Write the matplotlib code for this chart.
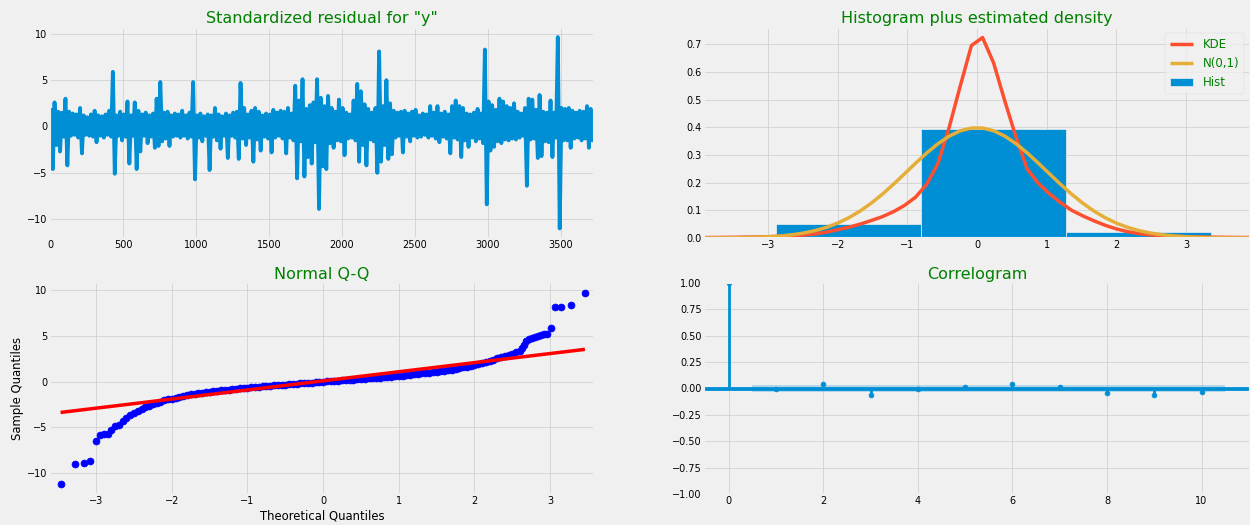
import numpy as np
import matplotlib
matplotlib.use('Agg')
import matplotlib.pyplot as plt

# statsmodels-style diagnostics, fivethirtyeight look
plt.style.use('fivethirtyeight')
plt.rcParams['text.color'] = 'green'
plt.rcParams['lines.linewidth'] = 5
plt.rcParams['axes.titlesize'] = 23
plt.rcParams['legend.fontsize'] = 17

# ---- standardized residuals (envelope read per block of 25 obs) ----
nobs = 3730
resid_step = 25
resid_hi = [2.0, 2.6, 1.6, 1.5, 3.0, 1.6, 1.4, 1.3, 2.0, 1.2,
            1.0, 1.3, 1.7, 1.2, 1.1, 1.3, 1.7, 5.9, 1.2, 1.6,
            1.3, 2.7, 1.2, 2.6, 1.7, 1.3, 1.5, 1.2, 1.4, 3.0,
            4.8, 1.5, 1.6, 1.2, 1.4, 1.3, 1.7, 1.2, 1.5, 4.8,
            1.2, 1.4, 1.1, 1.3, 1.2, 2.0, 1.3, 1.1, 1.4, 1.2,
            1.5, 1.6, 4.7, 2.0, 1.3, 1.7, 2.0, 1.6, 1.2, 1.4,
            1.3, 1.8, 1.5, 1.7, 1.6, 2.0, 1.4, 4.4, 2.8, 5.1,
            1.9, 2.3, 2.6, 5.1, 3.1, 2.2, 3.3, 2.0, 1.6, 2.9,
            2.0, 1.5, 1.3, 2.8, 4.6, 3.8, 2.4, 1.9, 1.5, 2.0,
            8.1, 2.2, 5.0, 2.5, 1.7, 1.5, 1.6, 1.7, 1.4, 1.6,
            1.8, 1.2, 1.4, 1.3, 2.2, 1.5, 2.2, 1.4, 1.6, 1.3,
            2.2, 2.8, 2.2, 2.0, 1.4, 1.3, 1.5, 1.9, 1.4, 8.3,
            2.7, 2.3, 1.8, 3.0, 2.7, 2.2, 2.0, 2.5, 1.6, 1.4,
            2.0, 3.0, 2.9, 1.8, 3.4, 1.6, 1.5, 2.8, 1.5, 9.65,
            2.0, 1.9, 2.0, 1.7, 1.5, 1.7, 1.6, 2.2, 1.9, 1.8]
resid_lo = [-4.6, -2.0, -2.7, -1.1, -4.2, -1.0, -0.9, -1.2, -2.9, -0.9,
            -1.0, -1.1, -1.7, -1.0, -1.2, -0.9, -1.1, -5.1, -1.0, -1.5,
            -1.1, -4.0, -1.0, -4.6, -2.7, -1.0, -1.8, -1.1, -2.3, -2.1,
            -1.6, -1.3, -2.1, -1.1, -1.0, -1.2, -1.0, -1.3, -1.1, -5.7,
            -1.2, -1.6, -1.0, -4.7, -1.1, -1.5, -2.4, -1.0, -3.4, -1.0,
            -1.2, -3.5, -1.3, -2.0, -1.2, -3.8, -1.4, -2.6, -1.1, -1.3,
            -2.8, -1.2, -1.0, -1.3, -2.9, -1.2, -1.5, -5.6, -1.6, -5.4,
            -3.3, -4.0, -1.7, -8.9, -4.3, -4.6, -1.8, -2.3, -1.5, -1.6,
            -3.1, -1.3, -1.2, -1.5, -3.8, -2.0, -4.2, -1.4, -1.6, -5.0,
            -3.8, -2.0, -3.5, -3.0, -1.2, -1.0, -2.8, -1.1, -1.6, -1.0,
            -1.2, -1.1, -0.9, -1.2, -1.0, -1.3, -1.7, -1.1, -1.3, -2.9,
            -1.2, -1.4, -3.3, -1.5, -2.2, -1.2, -1.6, -1.3, -1.8, -8.4,
            -2.6, -2.2, -1.6, -1.8, -1.4, -1.5, -1.3, -1.4, -1.2, -1.0,
            -6.4, -1.4, -1.3, -3.4, -3.2, -1.6, -1.7, -3.3, -1.2, -11.0,
            -1.5, -1.5, -2.3, -1.3, -1.2, -1.5, -1.3, -2.3, -1.5, -2.3]

# ---- histogram plus estimated density ----
hist_edges = [-11.2, -9.12, -7.04, -4.96, -2.88, -0.80, 1.28, 3.36, 5.44, 7.52, 9.60]
hist_dens = [0.0003, 0.0003, 0.001, 0.0035, 0.0494, 0.393, 0.0227, 0.0012, 0.0003, 0.0005]
kde_vals = [0.0015, 0.0018, 0.0022, 0.0027, 0.0033, 0.0040, 0.0050, 0.0064, 0.0082, 0.0110,
            0.0150, 0.0210, 0.0300, 0.0390, 0.0500, 0.0630, 0.0770, 0.0950, 0.1180, 0.1480,
            0.1950, 0.2700, 0.4000, 0.5500, 0.6960, 0.7250, 0.6320, 0.4950, 0.3650, 0.2500,
            0.1980, 0.1600, 0.1280, 0.1000, 0.0800, 0.0620, 0.0460, 0.0330, 0.0230, 0.0160,
            0.0115, 0.0085, 0.0065, 0.0052, 0.0042, 0.0034, 0.0028, 0.0023, 0.0019, 0.0016]
norm_vals = [0.00018, 0.00034, 0.00061, 0.00108, 0.00184, 0.00307, 0.00499, 0.00792, 0.01223, 0.01842,
             0.02705, 0.03871, 0.05399, 0.07340, 0.09728, 0.12566, 0.15822, 0.19419, 0.23228, 0.27086,
             0.30785, 0.34105, 0.36827, 0.38762, 0.39767, 0.39767, 0.38762, 0.36827, 0.34105, 0.30785,
             0.27086, 0.23228, 0.19419, 0.15822, 0.12566, 0.09728, 0.07340, 0.05399, 0.03871, 0.02705,
             0.01842, 0.01223, 0.00792, 0.00499, 0.00307, 0.00184, 0.00108, 0.00061, 0.00034, 0.00018]

# ---- normal Q-Q ----
qq_core_y = [-5.30, -4.90, -4.70, -4.30, -3.95, -3.70, -3.45, -3.25, -3.00, -2.80,
             -2.65, -2.50, -2.35, -2.20, -2.05, -1.95, -1.85, -1.75, -1.65, -1.55,
             -1.48, -1.40, -1.33, -1.27, -1.21, -1.15, -1.10, -1.05, -1.00, -0.95,
             -0.91, -0.87, -0.83, -0.79, -0.75, -0.70, -0.66, -0.63, -0.59, -0.56,
             -0.52, -0.49, -0.46, -0.42, -0.39, -0.36, -0.33, -0.29, -0.26, -0.23,
             -0.20, -0.17, -0.14, -0.11, -0.08, -0.05, -0.02, 0.01, 0.04, 0.07,
             0.10, 0.13, 0.16, 0.19, 0.22, 0.25, 0.28, 0.31, 0.34, 0.37,
             0.41, 0.44, 0.47, 0.51, 0.55, 0.58, 0.62, 0.66, 0.70, 0.74,
             0.79, 0.84, 0.89, 0.94, 0.99, 1.04, 1.09, 1.14, 1.20, 1.26,
             1.32, 1.39, 1.46, 1.54, 1.62, 1.71, 1.80, 1.90, 2.00, 2.12,
             2.25, 2.40, 2.55, 2.70, 2.82, 2.95, 3.05, 3.20, 3.35]
qq_tail_x = [-3.47, -3.28, -3.16, -3.08, -3.00, -2.95, -2.89, -2.85,
             2.63, 2.65, 2.68, 2.72, 2.76, 2.80, 2.84, 2.88, 2.92, 2.96,
             3.01, 3.06, 3.15, 3.27, 3.46]
qq_tail_y = [-11.23, -9.05, -8.91, -8.66, -6.45, -5.83, -5.72, -5.68,
             3.70, 4.00, 4.40, 4.60, 4.75, 4.85, 4.95, 5.10, 5.20, 5.25,
             5.87, 8.15, 8.15, 8.34, 9.72]
qq_line_x = [-3.47, 3.46]
qq_line_y = [-3.37, 3.52]

# ---- correlogram ----
acf_lags = [0, 1, 2, 3, 4, 5, 6, 7, 8, 9, 10]
acf_vals = [1.0, -0.006, 0.038, -0.057, -0.006, 0.016, 0.038, 0.016, -0.038, -0.063, -0.032]
acf_conf = [0.032, 0.032, 0.032, 0.032, 0.032, 0.032, 0.032, 0.032, 0.032, 0.032]


fig = plt.figure(figsize=(25, 10.5), dpi=50)
W, H = 1250., 525.

def px_axes(x0, y0, x1, y1):
    # axes box given in pixel coords of the 1250x525 canvas (top-left origin)
    return fig.add_axes([x0 / W, 1 - y1 / H, (x1 - x0) / W, (y1 - y0) / H])

ax1 = px_axes(50, 27.5, 594, 238)
ax2 = px_axes(704, 27.5, 1250, 238)
ax3 = px_axes(50, 283, 594, 494)
ax4 = px_axes(704, 283, 1250, 494)


# standardized residual
xs = np.column_stack([np.arange(len(resid_hi)) * resid_step + 6,
                      np.arange(len(resid_lo)) * resid_step + 19]).ravel()
ys = np.column_stack([resid_hi, resid_lo]).ravel()
ax1.plot(xs, ys, linewidth=5.5)
ax1.set_xlim(0, nobs - 1)
ax1.set_title('Standardized residual for "y"')


# histogram + densities (hist first so the lines take the next colours)
_, _, bars = ax2.hist(hist_edges[:-1], bins=hist_edges, weights=hist_dens, label='Hist',
                      edgecolor='#f0f0f0', linewidth=1)
kde_x = np.linspace(-1.96 * 2, 1.96 * 2, len(kde_vals))
l_kde, = ax2.plot(kde_x, kde_vals, label='KDE', color='#fc4f30')
l_norm, = ax2.plot(kde_x, norm_vals, label='N(0,1)', color='#e5ae38')
ax2.set_xlim(-1.96 * 2, 1.96 * 2)
ax2.legend([l_kde, l_norm, bars], ['KDE', 'N(0,1)', 'Hist'], loc='upper right')
ax2.set_title('Histogram plus estimated density')


# normal Q-Q
qq_core_x = np.round(np.arange(len(qq_core_y)) * 0.05 - 2.80, 2)
qq_x = np.concatenate([qq_tail_x[:8], qq_core_x, qq_tail_x[8:]])
qq_y = np.concatenate([qq_tail_y[:8], qq_core_y, qq_tail_y[8:]])
ax3.plot(qq_x, qq_y, 'bo', markeredgecolor='b', markersize=10)
ax3.plot(qq_line_x, qq_line_y, 'r-')
ax3.set_xlim(-3.61, 3.58)
ax3.set_xlabel('Theoretical Quantiles')
ax3.set_ylabel('Sample Quantiles')
ax3.set_title('Normal Q-Q')


# correlogram
ax4.vlines(acf_lags, [0], acf_vals, linewidth=4)
ax4.axhline(linewidth=5.5)
band_x = np.array(acf_lags[1:], dtype=float)
band_x[0] -= 0.5
band_x[-1] += 0.5
ax4.fill_between(band_x, -np.array(acf_conf), acf_conf, alpha=0.25)
ax4.plot(acf_lags, acf_vals, marker='o', markersize=7, linestyle='None')
ax4.margins(0.05)
ax4.set_ylim(-1, 1)
ax4.set_title('Correlogram')

fig.savefig('out.png', dpi=50, facecolor=fig.get_facecolor())
